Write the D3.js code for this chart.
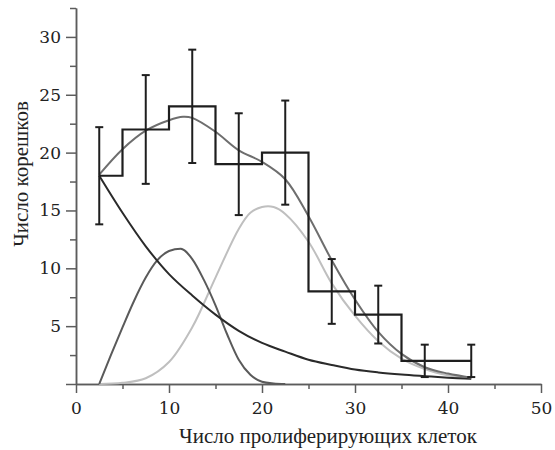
<!DOCTYPE html>
<html>
<head>
<meta charset="utf-8">
<script src="https://cdn.jsdelivr.net/npm/d3@7"></script>
<style>
  body { margin: 0; background: #fff; }
  svg text { font-family: "Liberation Serif", "DejaVu Serif", serif; fill: #222; }
</style>
</head>
<body>
<script>
// histogram (bin centres, counts, error half-widths)
var binX = [2.5, 7.5, 12.5, 17.5, 22.5, 27.5, 32.5, 37.5, 42.5]
var counts = [18, 22, 24, 19, 20, 8, 6, 2, 2]
var errs = [4.2, 4.7, 4.9, 4.4, 4.5, 2.8, 2.5, 1.4, 1.4]

// fitted curves
var decayX = [2.5, 5, 7.5, 10, 12.5, 15, 17.5, 20, 22.5, 25, 27.5, 30, 32.5, 35, 37.5, 40, 42.5]
var decayY = [18, 14.8, 11.9, 9.5, 7.65, 6.0, 4.6, 3.55, 2.8, 2.1, 1.65, 1.25, 1.0, 0.82, 0.68, 0.55, 0.45]

var comp1X = [2.5, 3.75, 5, 6.25, 7.5, 8.75, 10, 11.25, 12.5, 13.75, 15, 16.25, 17.5, 18.75, 20, 21.25, 22.5]
var comp1Y = [0, 2.5, 4.9, 7.2, 9.2, 10.7, 11.5, 11.7, 10.8, 9.0, 6.8, 4.3, 2.1, 0.8, 0.2, 0.05, 0]

var comp2X = [2.5, 5, 7.5, 10, 12.5, 15, 17.5, 18.75, 20, 21.25, 22.5, 25, 27.5, 30, 32.5, 35, 37.5, 40, 42.5]
var comp2Y = [0, 0.1, 0.5, 1.9, 4.9, 9.2, 13.4, 14.8, 15.3, 15.3, 14.7, 12.3, 8.7, 5.9, 3.7, 2.2, 1.3, 0.75, 0.45]

var sumX = [2.5, 5, 7.5, 10, 11.5, 12.5, 15, 17.5, 20, 22.5, 25, 27.5, 30, 32.5, 35, 37.5, 40, 42.5]
var sumY = [18.1, 20.3, 21.9, 22.8, 23.1, 23.0, 21.8, 20.2, 19.2, 17.7, 14.5, 10.7, 7.3, 4.5, 2.6, 1.45, 0.9, 0.55]

var xMajor = [0, 10, 20, 30, 40, 50]
var xMinor = [5, 15, 25, 35, 45]
var yMajor = [0, 5, 10, 15, 20, 25, 30]
var yMinor = [2.5, 7.5, 12.5, 17.5, 22.5, 27.5, 32.5]

var width = 555, height = 450
var margin = {top: 8, right: 14, bottom: 66, left: 76}
// Liberation Serif here has no digit glyphs, so numbers use DejaVu Serif
var digitFont = "'DejaVu Serif', serif"

var svg = d3.select("body")
  .append("svg")
  .attr("width", width)
  .attr("height", height)

var x = d3.scaleLinear().domain([0, 50]).range([margin.left, width - margin.right])
var y = d3.scaleLinear().domain([0, 32.5]).range([height - margin.bottom, margin.top])

var axisCol = "#5c5c5c"

// minor ticks first
svg.append("g")
  .attr("transform", "translate(0," + y(0) + ")")
  .call(d3.axisBottom(x).tickValues(xMinor).tickSize(5).tickSizeOuter(0).tickFormat(""))
svg.append("g")
  .attr("transform", "translate(" + x(0) + ",0)")
  .call(d3.axisLeft(y).tickValues(yMinor).tickSize(6).tickSizeOuter(0).tickFormat(""))

var xAxis = svg.append("g")
  .attr("transform", "translate(0," + y(0) + ")")
  .call(d3.axisBottom(x).tickValues(xMajor).tickSize(9).tickSizeOuter(0).tickPadding(9))
var yAxis = svg.append("g")
  .attr("transform", "translate(" + x(0) + ",0)")
  .call(d3.axisLeft(y).tickValues(yMajor).tickSize(10).tickSizeOuter(0).tickPadding(5)
    .tickFormat(function(d){ return d === 0 ? "" : d }))

;[xAxis, yAxis].forEach(function(a) {
  a.attr("font-family", digitFont).attr("font-size", 17)
  a.selectAll("text")
    .style("font-family", digitFont)
    .style("font-size", "17px")
    .attr("fill", "#222")
})

svg.selectAll(".domain, .tick line")
  .attr("stroke", axisCol)
  .attr("stroke-width", 1.5)

// axis titles
svg.append("text")
  .attr("x", 328)
  .attr("y", 443)
  .attr("text-anchor", "middle")
  .style("font-size", "21px")
  .text("Число пролиферирующих клеток")

svg.append("text")
  .attr("transform", "translate(28," + 174 + ")rotate(-90)")
  .attr("text-anchor", "middle")
  .style("font-size", "21px")
  .text("Число корешков")

// curves
function curveLine(xs, curve) {
  return d3.line()
    .x(function(d, i){ return x(xs[i]) })
    .y(function(d){ return y(d) })
    .curve(curve)
}

var curves = [
  {xs: comp2X, ys: comp2Y, col: "#bfbfbf", curve: d3.curveCatmullRom},
  {xs: comp1X, ys: comp1Y, col: "#5a5a5a", curve: d3.curveMonotoneX},
  {xs: decayX, ys: decayY, col: "#2a2a2a", curve: d3.curveCatmullRom},
  {xs: sumX, ys: sumY, col: "#6e6e6e", curve: d3.curveCatmullRom}
]
curves.forEach(function(c) {
  svg.append("path")
    .attr("d", curveLine(c.xs, c.curve)(c.ys))
    .attr("fill", "none")
    .attr("stroke", c.col)
    .attr("stroke-width", 2)
})

// histogram as a step line
var step = d3.line()
  .x(function(d, i){ return x(binX[i]) })
  .y(function(d){ return y(d) })
  .curve(d3.curveStep)
svg.append("path")
  .attr("d", step(counts))
  .attr("fill", "none")
  .attr("stroke", "#1e1e1e")
  .attr("stroke-width", 2.2)

// error bars
var bars = svg.selectAll("myerr")
  .data(binX)
  .enter()
  .append("g")
  .attr("stroke", "#1e1e1e")
  .attr("stroke-width", 2)
bars.append("line")
  .attr("x1", function(d){ return x(d) })
  .attr("x2", function(d){ return x(d) })
  .attr("y1", function(d, i){ return y(counts[i] + errs[i]) })
  .attr("y2", function(d, i){ return y(counts[i] - errs[i]) })
bars.append("line")
  .attr("x1", function(d){ return x(d) - 4 })
  .attr("x2", function(d){ return x(d) + 4 })
  .attr("y1", function(d, i){ return y(counts[i] + errs[i]) })
  .attr("y2", function(d, i){ return y(counts[i] + errs[i]) })
bars.append("line")
  .attr("x1", function(d){ return x(d) - 4 })
  .attr("x2", function(d){ return x(d) + 4 })
  .attr("y1", function(d, i){ return y(counts[i] - errs[i]) })
  .attr("y2", function(d, i){ return y(counts[i] - errs[i]) })
</script>
</body>
</html>
